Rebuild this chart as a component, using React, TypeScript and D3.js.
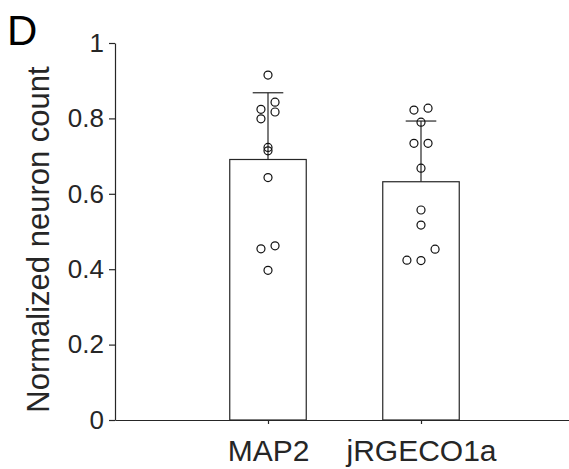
import { useEffect, useRef } from "react";
import * as d3 from "d3";

// bar categories and their summary values
const categories = ["MAP2", "jRGECO1a"];
const means = [0.691, 0.632];
const upperErr = [0.868, 0.793];

// individual samples, with the swarm slot each one sits in
const map2Values = [0.915, 0.843, 0.824, 0.817, 0.799, 0.723, 0.714, 0.643, 0.462, 0.454, 0.397];
const map2Slots = [0, 1, -1, 1, -1, 0, 0, 0, 1, -1, 0];
const jrgecoValues = [0.827, 0.822, 0.79, 0.734, 0.734, 0.668, 0.557, 0.517, 0.453, 0.424, 0.423];
const jrgecoSlots = [1, -1, 0, -1, 1, 0, 0, 0, 2, -2, 0];

const yTicks = [0, 0.2, 0.4, 0.6, 0.8, 1];

const App = () => {
	const svgRef = useRef(null);

	useEffect(() => {
		const width = 569;
		const height = 469;
		const ink = "#262626";
		const font = "'Liberation Sans', Arial, sans-serif";

		const svg = d3.select(svgRef.current).attr("width", width).attr("height", height);
		svg.selectAll("*").remove();

		// category positions 1 and 2 on a 0..3 axis
		const x = d3.scaleLinear().domain([0, 3]).range([115, 574]);
		const y = d3.scaleLinear().domain([0, 1]).range([420, 43]);
		const barWidth = 0.5;
		const slotWidth = 0.046;

		// bars
		svg
			.selectAll(".bar")
			.data(means)
			.enter()
			.append("rect")
			.attr("x", (d, i) => x(i + 1 - barWidth / 2))
			.attr("y", (d) => y(d))
			.attr("width", x(barWidth) - x(0))
			.attr("height", (d) => y(0) - y(d))
			.attr("fill", "white")
			.attr("stroke", ink)
			.attr("stroke-width", 1.2);

		// error bars, upper half only
		const capHalf = 0.1;
		means.forEach((m, i) => {
			svg
				.append("line")
				.attr("x1", x(i + 1))
				.attr("x2", x(i + 1))
				.attr("y1", y(m))
				.attr("y2", y(upperErr[i]))
				.attr("stroke", ink)
				.attr("stroke-width", 1.2);
			svg
				.append("line")
				.attr("x1", x(i + 1 - capHalf))
				.attr("x2", x(i + 1 + capHalf))
				.attr("y1", y(upperErr[i]))
				.attr("y2", y(upperErr[i]))
				.attr("stroke", ink)
				.attr("stroke-width", 1.2);
		});

		// sample points
		const groups = [
			{ values: map2Values, slots: map2Slots },
			{ values: jrgecoValues, slots: jrgecoSlots },
		];
		groups.forEach((g, i) => {
			svg
				.selectAll(".pt" + i)
				.data(g.values)
				.enter()
				.append("circle")
				.attr("cx", (d, j) => x(i + 1 + g.slots[j] * slotWidth))
				.attr("cy", (d) => y(d))
				.attr("r", 4)
				.attr("fill", "none")
				.attr("stroke", "#111")
				.attr("stroke-width", 1.2);
		});

		// y axis
		const yAxis = svg
			.append("g")
			.attr("transform", `translate(${x(0)},0)`)
			.call(
				d3
					.axisLeft(y)
					.tickValues(yTicks)
					.tickFormat(d3.format("~g"))
					.tickSize(6)
					.tickSizeOuter(0)
					.tickPadding(5)
			);
		yAxis.select(".domain").attr("stroke", ink).attr("stroke-width", 1.2);
		yAxis.selectAll(".tick line").attr("stroke", ink).attr("stroke-width", 1.2);
		yAxis
			.selectAll(".tick text")
			.attr("fill", ink)
			.style("font-family", font)
			.style("font-size", "26px");

		// x axis
		const xAxis = svg
			.append("g")
			.attr("transform", `translate(0,${y(0)})`)
			.call(
				d3
					.axisBottom(x)
					.tickValues([1, 2])
					.tickFormat((d, i) => categories[i])
					.tickSize(4)
					.tickSizeOuter(0)
					.tickPadding(16)
			);
		xAxis.select(".domain").attr("stroke", ink).attr("stroke-width", 1.2);
		xAxis.selectAll(".tick line").attr("stroke", ink).attr("stroke-width", 1.2);
		xAxis
			.selectAll(".tick text")
			.attr("fill", ink)
			.style("font-family", font)
			.style("font-size", "30px");

		// y label
		svg
			.append("text")
			.attr("transform", `translate(49,${(y(0) + y(1)) / 2 + 8}) rotate(-90)`)
			.attr("text-anchor", "middle")
			.attr("fill", ink)
			.style("font-family", font)
			.style("font-size", "31px")
			.text("Normalized neuron count");

		// panel letter
		svg
			.append("text")
			.attr("x", 7)
			.attr("y", 45)
			.attr("fill", "#000")
			.style("font-family", font)
			.style("font-size", "42px")
			.text("D");
	}, []);

	return <svg ref={svgRef} style={{ position: "absolute", left: 0, top: 0 }}></svg>;
};

export default App;
